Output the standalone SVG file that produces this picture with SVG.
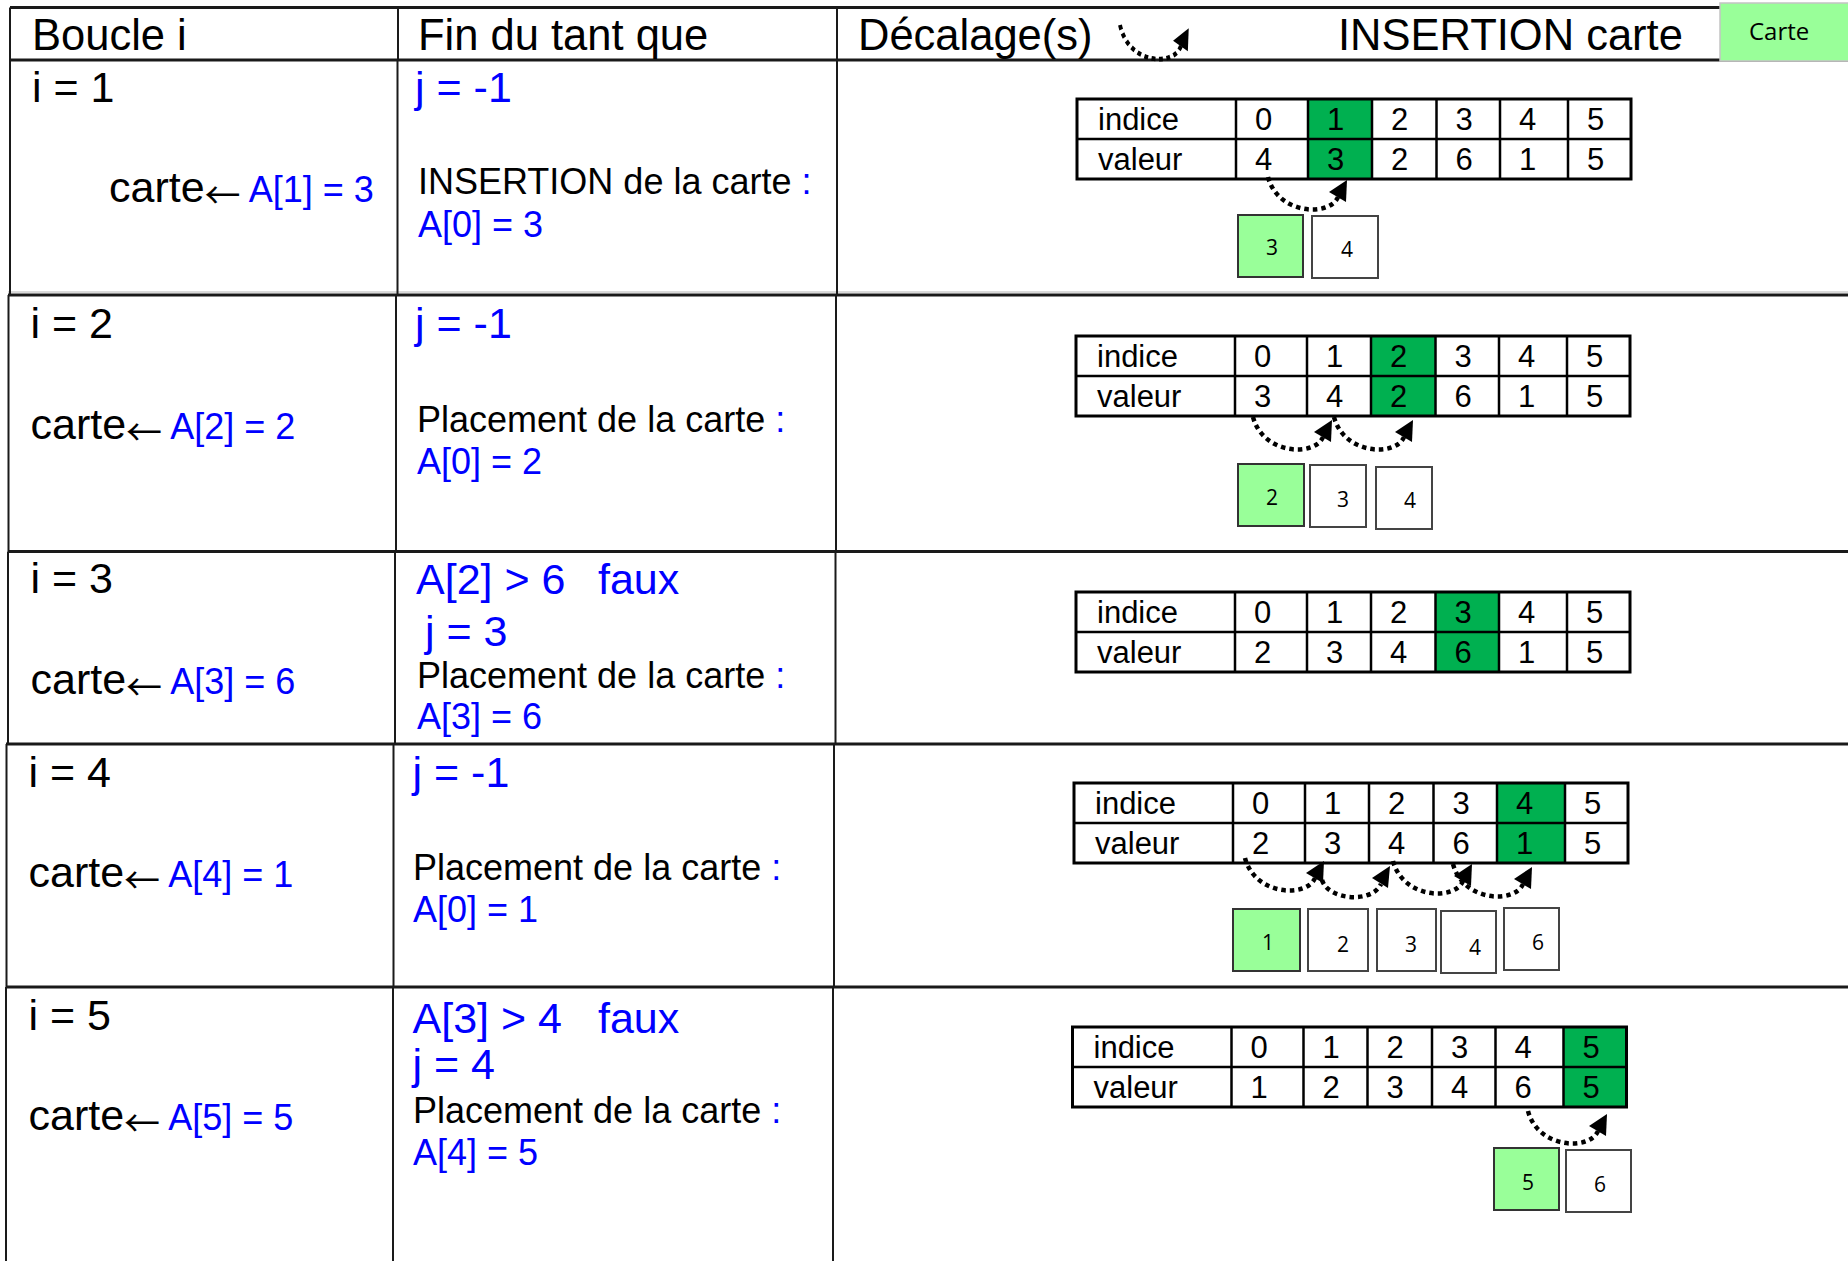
<svg xmlns="http://www.w3.org/2000/svg" xmlns:xlink="http://www.w3.org/1999/xlink" width="1848" height="1261" viewBox="0 0 1848 1261">
<style>
text { font-family: "Liberation Sans", Arial, sans-serif; fill: #000; }
.h { font-size: 43.5px; }
.big { font-size: 43px; }
.med { font-size: 36px; }
.arr { font-family: "Noto Sans CJK SC", "DejaVu Sans", sans-serif; font-size: 36px; }
.blue { fill: #0000ff; }
.tb { font-size: 31px; }
.card { font-family: "Open Sans", "Liberation Sans", sans-serif; font-size: 21px; text-anchor: middle; }
.hl { stroke: #1a1a1a; stroke-width: 3; fill: none; }
.vl { stroke: #1a1a1a; stroke-width: 2; fill: none; }
.sh { stroke: #b4b4b4; stroke-width: 1; fill: none; }
.cg { fill: #99ff99; stroke: #333; stroke-width: 2; }
.cw { fill: #fff; stroke: #444; stroke-width: 2; }
.sel { fill: #00b050; }
.dot { fill: none; stroke: #000; stroke-width: 4.5; stroke-dasharray: 4.5 4; }
</style>
<defs>
  <g id="grid">
    <rect x="0" y="0" width="554" height="80" fill="none" stroke="#000" stroke-width="3"/>
    <path d="M0,40H554 M159,0V80 M231,0V80 M295,0V80 M359.5,0V80 M423,0V80 M491,0V80" stroke="#000" stroke-width="2.5" fill="none"/>
  </g>
  <g id="shift">
    <path class="dot" d="M0,0 C10,38 62,40 70,20"/>
    <polygon points="79,3 61,15 78,25" fill="#000"/>
  </g>
</defs>
<rect width="1848" height="1261" fill="#fff"/>

<g id="frame">
  <line class="sh" x1="8" y1="292" x2="1848" y2="292"/>
  <line class="hl" x1="10" y1="7.5" x2="1720" y2="7.5"/>
  <line class="hl" x1="10" y1="60" x2="1848" y2="60"/>
  <line class="hl" x1="8" y1="295" x2="1848" y2="295"/>
  <line class="hl" x1="8" y1="551.5" x2="1848" y2="551.5"/>
  <line class="hl" x1="6" y1="744" x2="1848" y2="744"/>
  <line class="hl" x1="6" y1="987" x2="1848" y2="987"/>
  <path class="vl" d="M10,7.5V60 M398,7.5V60 M837,7.5V60"/>
  <path class="vl" d="M10,60V295 M397.5,60V295 M837,60V295"/>
  <path class="vl" d="M8.5,295V551.5 M396,295V551.5 M836,295V551.5"/>
  <path class="vl" d="M8,551.5V744 M395,551.5V744 M835.5,551.5V744"/>
  <path class="vl" d="M6.5,744V987 M393.5,744V987 M834,744V987"/>
  <path class="vl" d="M6,987V1261 M393,987V1261 M833,987V1261"/>
</g>

<g id="header">
  <text class="h" x="32" y="50">Boucle i</text>
  <text class="h" x="418" y="50">Fin du tant que</text>
  <text class="h" x="858" y="50">Décalage(s)</text>
  <text class="h" x="1338" y="50">INSERTION carte</text>
</g>
<g id="legend-carte">
  <rect x="1720" y="3" width="130" height="58" fill="#99ff99" stroke="#c4c4c4" stroke-width="1.5"/>
  <text x="1749" y="40" style="font-family:'Open Sans','Liberation Sans',sans-serif;font-size:24px">Carte</text>
</g>

<!-- Row i = 1 -->
<g id="boucle1">
  <text class="big" x="32" y="102">i = 1</text>
  <text x="109" y="202"><tspan class="big">carte</tspan><tspan class="arr" dy="7">←</tspan><tspan class="med" dy="-7"> </tspan><tspan class="med blue">A[1] = 3</tspan></text>
</g>
<g id="fin1">
  <text class="big blue" x="415" y="102">j = -1</text>
  <text class="med" x="418" y="194">INSERTION de la carte <tspan class="blue">:</tspan></text>
  <text class="med blue" x="418" y="237">A[0] = 3</text>
</g>
<g id="tab1" transform="translate(1077,99)">
  <rect class="sel" x="231" y="0" width="64" height="80"/>
  <use xlink:href="#grid" href="#grid"/>
  <text class="tb" x="21" y="31">indice</text><text class="tb" x="21" y="71">valeur</text>
  <text class="tb" y="31"><tspan x="178">0</tspan><tspan x="250">1</tspan><tspan x="314">2</tspan><tspan x="378.5">3</tspan><tspan x="442">4</tspan><tspan x="510">5</tspan></text>
  <text class="tb" y="71"><tspan x="178">4</tspan><tspan x="250">3</tspan><tspan x="314">2</tspan><tspan x="378.5">6</tspan><tspan x="442">1</tspan><tspan x="510">5</tspan></text>
</g>
<g id="cards1">
  <g id="c1a"><rect class="cg" x="1238" y="215" width="65" height="62"/><text class="card" x="1272" y="255">3</text></g>
  <g id="c1b"><rect class="cw" x="1312" y="216" width="66" height="62"/><text class="card" x="1347" y="257">4</text></g>
</g>

<!-- Row i = 2 -->
<g id="boucle2">
  <text class="big" x="30.5" y="338">i = 2</text>
  <text x="30.5" y="438.5"><tspan class="big">carte</tspan><tspan class="arr" dy="7">←</tspan><tspan class="med" dy="-7"> </tspan><tspan class="med blue">A[2] = 2</tspan></text>
</g>
<g id="fin2">
  <text class="big blue" x="415" y="338">j = -1</text>
  <text class="med" x="417" y="431.5">Placement de la carte <tspan class="blue">:</tspan></text>
  <text class="med blue" x="417" y="474">A[0] = 2</text>
</g>
<g id="tab2" transform="translate(1076,336)">
  <rect class="sel" x="295" y="0" width="64.5" height="80"/>
  <use xlink:href="#grid" href="#grid"/>
  <text class="tb" x="21" y="31">indice</text><text class="tb" x="21" y="71">valeur</text>
  <text class="tb" y="31"><tspan x="178">0</tspan><tspan x="250">1</tspan><tspan x="314">2</tspan><tspan x="378.5">3</tspan><tspan x="442">4</tspan><tspan x="510">5</tspan></text>
  <text class="tb" y="71"><tspan x="178">3</tspan><tspan x="250">4</tspan><tspan x="314">2</tspan><tspan x="378.5">6</tspan><tspan x="442">1</tspan><tspan x="510">5</tspan></text>
</g>
<g id="cards2">
  <g id="c2a"><rect class="cg" x="1238" y="464" width="66" height="62"/><text class="card" x="1272" y="505">2</text></g>
  <g id="c2b"><rect class="cw" x="1310" y="465" width="56" height="62"/><text class="card" x="1343" y="507">3</text></g>
  <g id="c2c"><rect class="cw" x="1376" y="467" width="56" height="62"/><text class="card" x="1410" y="508">4</text></g>
</g>

<!-- Row i = 3 -->
<g id="boucle3">
  <text class="big" x="30.5" y="593">i = 3</text>
  <text x="30.5" y="694"><tspan class="big">carte</tspan><tspan class="arr" dy="7">←</tspan><tspan class="med" dy="-7"> </tspan><tspan class="med blue">A[3] = 6</tspan></text>
</g>
<g id="fin3">
  <text class="big blue" x="416" y="594">A[2] &gt; 6<tspan x="598">faux</tspan></text>
  <text class="big blue" x="425" y="646">j = 3</text>
  <text class="med" x="417" y="688">Placement de la carte <tspan class="blue">:</tspan></text>
  <text class="med blue" x="417" y="729">A[3] = 6</text>
</g>
<g id="tab3" transform="translate(1076,592)">
  <rect class="sel" x="359.5" y="0" width="63.5" height="80"/>
  <use xlink:href="#grid" href="#grid"/>
  <text class="tb" x="21" y="31">indice</text><text class="tb" x="21" y="71">valeur</text>
  <text class="tb" y="31"><tspan x="178">0</tspan><tspan x="250">1</tspan><tspan x="314">2</tspan><tspan x="378.5">3</tspan><tspan x="442">4</tspan><tspan x="510">5</tspan></text>
  <text class="tb" y="71"><tspan x="178">2</tspan><tspan x="250">3</tspan><tspan x="314">4</tspan><tspan x="378.5">6</tspan><tspan x="442">1</tspan><tspan x="510">5</tspan></text>
</g>

<!-- Row i = 4 -->
<g id="boucle4">
  <text class="big" x="28.5" y="787">i = 4</text>
  <text x="28.5" y="887"><tspan class="big">carte</tspan><tspan class="arr" dy="7">←</tspan><tspan class="med" dy="-7"> </tspan><tspan class="med blue">A[4] = 1</tspan></text>
</g>
<g id="fin4">
  <text class="big blue" x="412.5" y="787">j = -1</text>
  <text class="med" x="413" y="880">Placement de la carte <tspan class="blue">:</tspan></text>
  <text class="med blue" x="413" y="922">A[0] = 1</text>
</g>
<g id="tab4" transform="translate(1074,783)">
  <rect class="sel" x="423" y="0" width="68" height="80"/>
  <use xlink:href="#grid" href="#grid"/>
  <text class="tb" x="21" y="31">indice</text><text class="tb" x="21" y="71">valeur</text>
  <text class="tb" y="31"><tspan x="178">0</tspan><tspan x="250">1</tspan><tspan x="314">2</tspan><tspan x="378.5">3</tspan><tspan x="442">4</tspan><tspan x="510">5</tspan></text>
  <text class="tb" y="71"><tspan x="178">2</tspan><tspan x="250">3</tspan><tspan x="314">4</tspan><tspan x="378.5">6</tspan><tspan x="442">1</tspan><tspan x="510">5</tspan></text>
</g>
<g id="cards4">
  <g id="c4a"><rect class="cg" x="1233" y="909" width="67" height="62"/><text class="card" x="1268" y="950">1</text></g>
  <g id="c4b"><rect class="cw" x="1308" y="909" width="60" height="62"/><text class="card" x="1343" y="952">2</text></g>
  <g id="c4c"><rect class="cw" x="1377" y="909" width="59" height="62"/><text class="card" x="1411" y="952">3</text></g>
  <g id="c4d"><rect class="cw" x="1441" y="911" width="55" height="62"/><text class="card" x="1475" y="955">4</text></g>
  <g id="c4e"><rect class="cw" x="1504" y="908" width="55" height="62"/><text class="card" x="1538" y="950">6</text></g>
</g>

<!-- Row i = 5 -->
<g id="boucle5">
  <text class="big" x="28.5" y="1030">i = 5</text>
  <text x="28.5" y="1130"><tspan class="big">carte</tspan><tspan class="arr" dy="7">←</tspan><tspan class="med" dy="-7"> </tspan><tspan class="med blue">A[5] = 5</tspan></text>
</g>
<g id="fin5">
  <text class="big blue" x="412.5" y="1033">A[3] &gt; 4<tspan x="598">faux</tspan></text>
  <text class="big blue" x="412.5" y="1079">j = 4</text>
  <text class="med" x="413" y="1123">Placement de la carte <tspan class="blue">:</tspan></text>
  <text class="med blue" x="413" y="1165">A[4] = 5</text>
</g>
<g id="tab5" transform="translate(1072.5,1027)">
  <rect class="sel" x="491" y="0" width="63" height="80"/>
  <use xlink:href="#grid" href="#grid"/>
  <text class="tb" x="21" y="31">indice</text><text class="tb" x="21" y="71">valeur</text>
  <text class="tb" y="31"><tspan x="178">0</tspan><tspan x="250">1</tspan><tspan x="314">2</tspan><tspan x="378.5">3</tspan><tspan x="442">4</tspan><tspan x="510">5</tspan></text>
  <text class="tb" y="71"><tspan x="178">1</tspan><tspan x="250">2</tspan><tspan x="314">3</tspan><tspan x="378.5">4</tspan><tspan x="442">6</tspan><tspan x="510">5</tspan></text>
</g>
<g id="cards5">
  <g id="c5a"><rect class="cg" x="1494" y="1148" width="65" height="62"/><text class="card" x="1528" y="1190">5</text></g>
  <g id="c5b"><rect class="cw" x="1566" y="1150" width="65" height="62"/><text class="card" x="1600" y="1192">6</text></g>
</g>

<g id="connectors">
  <use xlink:href="#shift" href="#shift" transform="translate(1120,25) scale(0.87,1.05)"/>
  <use xlink:href="#shift" href="#shift" transform="translate(1268,177)"/>
  <use xlink:href="#shift" href="#shift" transform="translate(1253,417)"/>
  <use xlink:href="#shift" href="#shift" transform="translate(1334,417)"/>
  <use xlink:href="#shift" href="#shift" transform="translate(1245,858)"/>
  <path class="dot" d="M1322,880 C1328,900 1372,904 1381,884"/>
  <polygon points="1390,866 1372,878 1388,888" fill="#000"/>
  <use xlink:href="#shift" href="#shift" transform="translate(1393,861)"/>
  <use xlink:href="#shift" href="#shift" transform="translate(1453,864)"/>
  <use xlink:href="#shift" href="#shift" transform="translate(1528,1111)"/>
</g>
</svg>
